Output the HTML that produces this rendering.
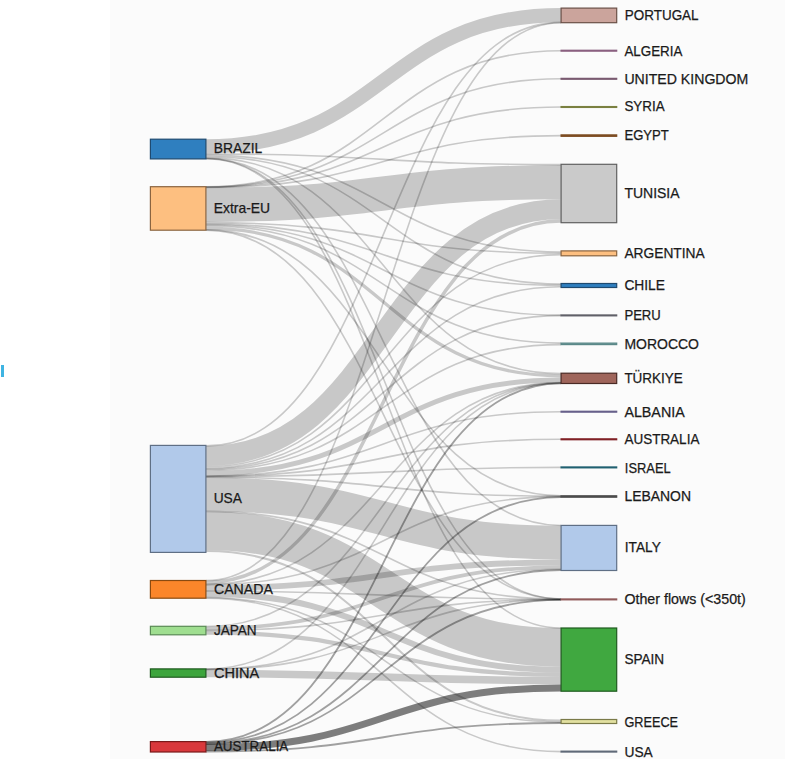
<!DOCTYPE html>
<html><head><meta charset="utf-8"><style>
html,body{margin:0;padding:0;background:#fff;width:785px;height:759px;overflow:hidden}
#bg{position:absolute;left:110px;top:0;width:675px;height:759px;background:#fbfbfb}
#cy{position:absolute;left:1px;top:365px;width:3px;height:12px;background:#3fb4e2}
svg{position:absolute;left:0;top:0}
.lk{fill:none;stroke:#000;stroke-opacity:0.2}
.dk{stroke-opacity:0.5}
text{font-family:"Liberation Sans",sans-serif;font-size:14.5px;fill:#1a1a1a;stroke:#1a1a1a;stroke-width:0.25px}
</style></head><body>
<div id="bg"></div><div id="cy"></div>
<svg width="785" height="759" viewBox="0 0 785 759">
<g><path d="M205.9,146.42C383.5,146.42 383.5,15.10 561.1,15.10" stroke-width="14.30" class="lk"/>
<path d="M205.9,154.02C383.5,154.02 383.5,164.65 561.1,164.65" stroke-width="1.60" class="lk"/>
<path d="M205.9,155.12C383.5,155.12 383.5,251.95 561.1,251.95" stroke-width="1.60" class="lk"/>
<path d="M205.9,156.43C383.5,156.43 383.5,284.15 561.1,284.15" stroke-width="1.60" class="lk"/>
<path d="M205.9,157.58C383.5,157.58 383.5,373.65 561.1,373.65" stroke-width="1.60" class="lk"/>
<path d="M205.9,158.23C383.5,158.23 383.5,525.45 561.1,525.45" stroke-width="1.60" class="lk"/>
<path d="M205.9,158.45C383.5,158.45 383.5,598.95 561.1,598.95" stroke-width="1.60" class="lk"/>
<path d="M205.9,158.68C383.5,158.68 383.5,627.95 561.1,627.95" stroke-width="1.60" class="lk"/>
<path d="M205.9,186.77C383.5,186.77 383.5,50.70 561.1,50.70" stroke-width="1.60" class="lk"/>
<path d="M205.9,186.97C383.5,186.97 383.5,78.80 561.1,78.80" stroke-width="1.60" class="lk"/>
<path d="M205.9,187.17C383.5,187.17 383.5,107.00 561.1,107.00" stroke-width="1.60" class="lk"/>
<path d="M205.9,187.52C383.5,187.52 383.5,135.60 561.1,135.60" stroke-width="1.60" class="lk"/>
<path d="M205.9,204.87C383.5,204.87 383.5,182.20 561.1,182.20" stroke-width="34.20" class="lk"/>
<path d="M205.9,222.62C383.5,222.62 383.5,253.25 561.1,253.25" stroke-width="1.60" class="lk"/>
<path d="M205.9,223.87C383.5,223.87 383.5,285.40 561.1,285.40" stroke-width="1.60" class="lk"/>
<path d="M205.9,224.72C383.5,224.72 383.5,315.15 561.1,315.15" stroke-width="1.60" class="lk"/>
<path d="M205.9,225.72C383.5,225.72 383.5,343.10 561.1,343.10" stroke-width="1.60" class="lk"/>
<path d="M205.9,228.12C383.5,228.12 383.5,375.80 561.1,375.80" stroke-width="3.30" class="lk"/>
<path d="M205.9,229.92C383.5,229.92 383.5,495.75 561.1,495.75" stroke-width="1.60" class="lk"/>
<path d="M205.9,230.15C383.5,230.15 383.5,599.10 561.1,599.10" stroke-width="1.60" class="lk"/>
<path d="M205.9,445.87C383.5,445.87 383.5,22.40 561.1,22.40" stroke-width="1.60" class="lk"/>
<path d="M205.9,456.02C383.5,456.02 383.5,209.30 561.1,209.30" stroke-width="20.00" class="lk"/>
<path d="M205.9,466.77C383.5,466.77 383.5,254.65 561.1,254.65" stroke-width="1.60" class="lk"/>
<path d="M205.9,468.27C383.5,468.27 383.5,286.75 561.1,286.75" stroke-width="1.60" class="lk"/>
<path d="M205.9,469.27C383.5,469.27 383.5,315.65 561.1,315.65" stroke-width="1.60" class="lk"/>
<path d="M205.9,470.27C383.5,470.27 383.5,344.60 561.1,344.60" stroke-width="1.60" class="lk"/>
<path d="M205.9,473.52C383.5,473.52 383.5,379.95 561.1,379.95" stroke-width="5.00" class="lk"/>
<path d="M205.9,476.17C383.5,476.17 383.5,411.70 561.1,411.70" stroke-width="1.60" class="lk"/>
<path d="M205.9,476.47C383.5,476.47 383.5,439.30 561.1,439.30" stroke-width="1.60" class="lk"/>
<path d="M205.9,476.77C383.5,476.77 383.5,467.40 561.1,467.40" stroke-width="1.60" class="lk"/>
<path d="M205.9,477.18C383.5,477.18 383.5,496.15 561.1,496.15" stroke-width="1.60" class="lk"/>
<path d="M205.9,494.38C383.5,494.38 383.5,542.55 561.1,542.55" stroke-width="33.90" class="lk"/>
<path d="M205.9,511.40C383.5,511.40 383.5,599.25 561.1,599.25" stroke-width="1.60" class="lk"/>
<path d="M205.9,530.77C383.5,530.77 383.5,647.40 561.1,647.40" stroke-width="38.60" class="lk"/>
<path d="M205.9,551.07C383.5,551.07 383.5,720.60 561.1,720.60" stroke-width="2.00" class="lk"/>
<path d="M205.9,580.57C383.5,580.57 383.5,22.70 561.1,22.70" stroke-width="1.60" class="lk"/>
<path d="M205.9,582.47C383.5,582.47 383.5,221.05 561.1,221.05" stroke-width="3.50" class="lk"/>
<path d="M205.9,584.37C383.5,584.37 383.5,382.60 561.1,382.60" stroke-width="1.60" class="lk"/>
<path d="M205.9,584.72C383.5,584.72 383.5,496.60 561.1,496.60" stroke-width="1.60" class="lk"/>
<path d="M205.9,587.87C383.5,587.87 383.5,562.45 561.1,562.45" stroke-width="5.90" class="lk"/>
<path d="M205.9,590.90C383.5,590.90 383.5,599.40 561.1,599.40" stroke-width="1.60" class="lk"/>
<path d="M205.9,593.97C383.5,593.97 383.5,669.70 561.1,669.70" stroke-width="6.00" class="lk"/>
<path d="M205.9,597.47C383.5,597.47 383.5,722.10 561.1,722.10" stroke-width="1.60" class="lk"/>
<path d="M205.9,598.12C383.5,598.12 383.5,751.60 561.1,751.60" stroke-width="1.60" class="lk"/>
<path d="M205.9,626.52C383.5,626.52 383.5,382.85 561.1,382.85" stroke-width="1.60" class="lk"/>
<path d="M205.9,628.48C383.5,628.48 383.5,567.25 561.1,567.25" stroke-width="3.70" class="lk"/>
<path d="M205.9,630.40C383.5,630.40 383.5,599.55 561.1,599.55" stroke-width="1.60" class="lk"/>
<path d="M205.9,632.58C383.5,632.58 383.5,674.80 561.1,674.80" stroke-width="4.20" class="lk"/>
<path d="M205.9,669.08C383.5,669.08 383.5,383.05 561.1,383.05" stroke-width="1.60" class="lk"/>
<path d="M205.9,669.33C383.5,669.33 383.5,569.25 561.1,569.25" stroke-width="1.60" class="lk"/>
<path d="M205.9,669.55C383.5,669.55 383.5,599.70 561.1,599.70" stroke-width="1.60" class="lk"/>
<path d="M205.9,673.38C383.5,673.38 383.5,680.65 561.1,680.65" stroke-width="7.50" class="lk"/>
<path d="M205.9,741.93C383.5,741.93 383.5,383.35 561.1,383.35" stroke-width="1.80" class="lk dk" style="stroke-opacity:0.36"/>
<path d="M205.9,742.42C383.5,742.42 383.5,497.10 561.1,497.10" stroke-width="1.80" class="lk dk" style="stroke-opacity:0.36"/>
<path d="M205.9,743.33C383.5,743.33 383.5,570.00 561.1,570.00" stroke-width="1.80" class="lk dk" style="stroke-opacity:0.36"/>
<path d="M205.9,744.00C383.5,744.00 383.5,599.85 561.1,599.85" stroke-width="1.80" class="lk dk" style="stroke-opacity:0.36"/>
<path d="M205.9,747.58C383.5,747.58 383.5,687.90 561.1,687.90" stroke-width="7.00" class="lk dk" style="stroke-opacity:0.5"/>
<path d="M205.9,751.48C383.5,751.48 383.5,723.00 561.1,723.00" stroke-width="1.80" class="lk dk" style="stroke-opacity:0.36"/></g>
<g><rect x="150.4" y="139.2" width="55.5" height="19.7" fill="#2f7fbf" stroke="#1f4a70" stroke-width="1.2"/>
<rect x="150.4" y="186.7" width="55.5" height="43.5" fill="#fdbf80" stroke="#8a6440" stroke-width="1.2"/>
<rect x="150.4" y="445.4" width="55.5" height="107.0" fill="#b1c9ea" stroke="#5f6f85" stroke-width="1.2"/>
<rect x="150.4" y="580.5" width="55.5" height="17.7" fill="#fb862a" stroke="#8a4a10" stroke-width="1.2"/>
<rect x="150.4" y="626.3" width="55.5" height="8.5" fill="#9fde90" stroke="#5a8a55" stroke-width="1.2"/>
<rect x="150.4" y="668.9" width="55.5" height="8.3" fill="#3da53d" stroke="#1f5a1f" stroke-width="1.2"/>
<rect x="150.4" y="741.6" width="55.5" height="10.4" fill="#d9383c" stroke="#7a1a1a" stroke-width="1.2"/>
<rect x="561.1" y="8.1" width="55.60000000000002" height="14.6" fill="#cba49c" stroke="#6a5048" stroke-width="1.2"/>
<rect x="561.1" y="50.25" width="55.60000000000002" height="0.9" fill="#9a7090" stroke="#8a6080" stroke-width="1.2"/>
<rect x="561.1" y="78.35" width="55.60000000000002" height="0.9" fill="#8a6a80" stroke="#7a5a70" stroke-width="1.2"/>
<rect x="561.1" y="106.55" width="55.60000000000002" height="0.9" fill="#8a9050" stroke="#7a8040" stroke-width="1.2"/>
<rect x="561.1" y="134.9" width="55.60000000000002" height="1.4" fill="#8b5a2b" stroke="#7a4a20" stroke-width="1.2"/>
<rect x="561.1" y="164.3" width="55.60000000000002" height="58.4" fill="#cacaca" stroke="#606060" stroke-width="1.2"/>
<rect x="561.1" y="250.9" width="55.60000000000002" height="4.9" fill="#fdbf80" stroke="#8a6440" stroke-width="1.2"/>
<rect x="561.1" y="283.5" width="55.60000000000002" height="4.0" fill="#2f7fbf" stroke="#1f4a70" stroke-width="1.2"/>
<rect x="561.1" y="314.95" width="55.60000000000002" height="0.9" fill="#707078" stroke="#606068" stroke-width="1.2"/>
<rect x="561.1" y="343.1" width="55.60000000000002" height="1.5" fill="#6a9898" stroke="#5a8888" stroke-width="1.2"/>
<rect x="561.1" y="373.2" width="55.60000000000002" height="10.3" fill="#9f655b" stroke="#4a2a25" stroke-width="1.2"/>
<rect x="561.1" y="411.25" width="55.60000000000002" height="0.9" fill="#77709a" stroke="#67608a" stroke-width="1.2"/>
<rect x="561.1" y="438.85" width="55.60000000000002" height="0.9" fill="#902a30" stroke="#802025" stroke-width="1.2"/>
<rect x="561.1" y="466.95" width="55.60000000000002" height="0.9" fill="#2a7080" stroke="#206070" stroke-width="1.2"/>
<rect x="561.1" y="495.8" width="55.60000000000002" height="1.4" fill="#555555" stroke="#4a4a4a" stroke-width="1.2"/>
<rect x="561.1" y="525.4" width="55.60000000000002" height="45.1" fill="#b1c9ea" stroke="#5f6f85" stroke-width="1.2"/>
<rect x="561.1" y="598.95" width="55.60000000000002" height="0.9" fill="#a06a6a" stroke="#905a5a" stroke-width="1.2"/>
<rect x="561.1" y="628.0" width="55.60000000000002" height="63.2" fill="#40a840" stroke="#1f5a1f" stroke-width="1.2"/>
<rect x="561.1" y="719.5" width="55.60000000000002" height="4.0" fill="#e2e0a0" stroke="#7a7a48" stroke-width="1.2"/>
<rect x="561.1" y="751.15" width="55.60000000000002" height="0.9" fill="#707a88" stroke="#606a78" stroke-width="1.2"/></g>
<g><text x="624.80" y="19.75" textLength="73.80" lengthAdjust="spacingAndGlyphs">PORTUGAL</text>
<text x="624.40" y="55.50" textLength="58.00" lengthAdjust="spacingAndGlyphs">ALGERIA</text>
<text x="624.40" y="83.70" textLength="123.90" lengthAdjust="spacingAndGlyphs">UNITED KINGDOM</text>
<text x="624.40" y="111.40" textLength="40.20" lengthAdjust="spacingAndGlyphs">SYRIA</text>
<text x="624.40" y="140.10" textLength="44.40" lengthAdjust="spacingAndGlyphs">EGYPT</text>
<text x="624.40" y="198.40" textLength="55.20" lengthAdjust="spacingAndGlyphs">TUNISIA</text>
<text x="624.40" y="258.40" textLength="80.30" lengthAdjust="spacingAndGlyphs">ARGENTINA</text>
<text x="624.40" y="289.70" textLength="40.60" lengthAdjust="spacingAndGlyphs">CHILE</text>
<text x="624.40" y="319.50" textLength="36.40" lengthAdjust="spacingAndGlyphs">PERU</text>
<text x="624.40" y="348.90" textLength="74.60" lengthAdjust="spacingAndGlyphs">MOROCCO</text>
<text x="624.40" y="382.90" textLength="58.40" lengthAdjust="spacingAndGlyphs">TÜRKIYE</text>
<text x="624.40" y="416.50" textLength="60.30" lengthAdjust="spacingAndGlyphs">ALBANIA</text>
<text x="624.40" y="444.00" textLength="75.00" lengthAdjust="spacingAndGlyphs">AUSTRALIA</text>
<text x="624.80" y="472.70" textLength="45.90" lengthAdjust="spacingAndGlyphs">ISRAEL</text>
<text x="624.40" y="501.30" textLength="66.60" lengthAdjust="spacingAndGlyphs">LEBANON</text>
<text x="624.80" y="552.20" textLength="36.00" lengthAdjust="spacingAndGlyphs">ITALY</text>
<text x="624.40" y="604.20" textLength="121.40" lengthAdjust="spacingAndGlyphs">Other flows (&lt;350t)</text>
<text x="624.40" y="664.30" textLength="39.80" lengthAdjust="spacingAndGlyphs">SPAIN</text>
<text x="624.50" y="726.80" textLength="53.60" lengthAdjust="spacingAndGlyphs">GREECE</text>
<text x="624.50" y="757.10" textLength="28.30" lengthAdjust="spacingAndGlyphs">USA</text>
<text x="213.80" y="153.20" textLength="48.50" lengthAdjust="spacingAndGlyphs">BRAZIL</text>
<text x="213.80" y="213.10" textLength="56.30" lengthAdjust="spacingAndGlyphs">Extra-EU</text>
<text x="213.70" y="503.00" textLength="28.30" lengthAdjust="spacingAndGlyphs">USA</text>
<text x="213.90" y="594.10" textLength="59.10" lengthAdjust="spacingAndGlyphs">CANADA</text>
<text x="213.90" y="635.30" textLength="42.80" lengthAdjust="spacingAndGlyphs">JAPAN</text>
<text x="213.90" y="677.80" textLength="45.30" lengthAdjust="spacingAndGlyphs">CHINA</text>
<text x="213.90" y="751.30" textLength="74.40" lengthAdjust="spacingAndGlyphs">AUSTRALIA</text></g>
</svg>
</body></html>
